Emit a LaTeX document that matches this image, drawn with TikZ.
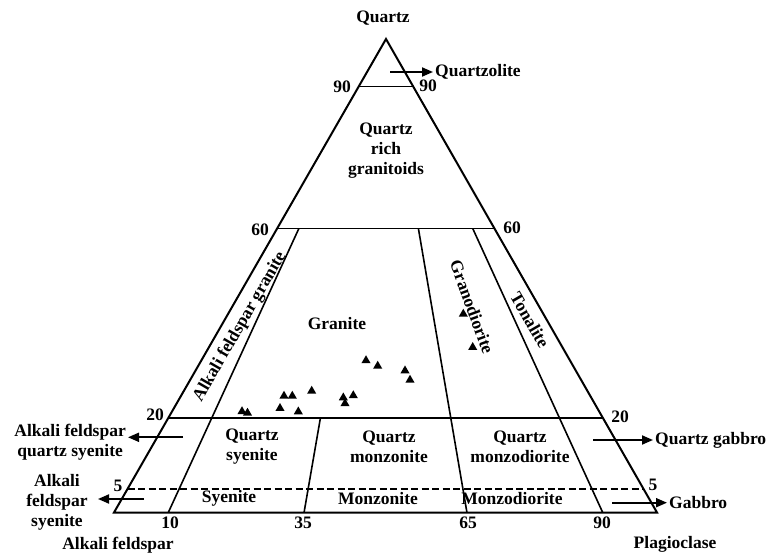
\documentclass[tikz,border=0pt]{standalone}
\usepackage{fontspec}
\setmainfont{Liberation Serif}
\usetikzlibrary{arrows.meta}
\usetikzlibrary{calc}
\usetikzlibrary{shapes.geometric}

\begin{document}
\begin{tikzpicture}[x=1pt, y=1pt,
        every node/.style={font=\bfseries\fontsize{17.5}{20}\selectfont, inner sep=2pt},
        edge/.style={line width=2pt, line join=miter},
        field/.style={line width=1.6pt},
        arr/.style={line width=1.9pt, -{Triangle[length=11pt, width=9pt]}},
        tri/.style={fill, regular polygon, regular polygon sides=3, minimum size=10.5pt, inner sep=0}]
            \useasboundingbox (0,0) rectangle (769,555);
            % corners of the QAP triangle
            \coordinate (A) at (114,42.5);
            \coordinate (P) at (657,42.5);
            \coordinate (Q) at (386,516);
            \coordinate (b10) at ($(A)!0.10!(P)$);
            \coordinate (b35) at ($(A)!0.35!(P)$);
            \coordinate (b65) at ($(A)!0.65!(P)$);
            \coordinate (b90) at ($(A)!0.90!(P)$);
            \draw[edge] (A) -- (P) -- (Q) -- cycle;
            \draw[field] ($(A)!0.9!(Q)$) -- ($(P)!0.9!(Q)$);
            \draw[field] ($(A)!0.6!(Q)$) -- ($(P)!0.6!(Q)$);
            \draw[field] ($(A)!0.2!(Q)$) -- ($(P)!0.2!(Q)$);
            \draw[field, dash pattern=on 7pt off 3.5pt] ($(A)!0.05!(Q)$) -- ($(P)!0.05!(Q)$);
            \draw[field] ($(b10)!0.6!(Q)$) -- (b10);
            \draw[field] ($(b35)!0.2!(Q)$) -- (b35);
            \draw[field] ($(b65)!0.6!(Q)$) -- (b65);
            \draw[field] ($(b90)!0.6!(Q)$) -- (b90);

            % corner and scale labels
            \node (lq) at (383,537) {Quartz};
            \node (la) at (118,10) {Alkali feldspar};
            \node (lp) at (675,11) {Plagioclase};
            \node (n90l) at (342,468) {90};
            \node (n90r) at (428,469) {90};
            \node (n60l) at (260,325) {60};
            \node (n60r) at (512,327) {60};
            \node (n20l) at (155,140) {20};
            \node (n20r) at (620,138.3) {20};
            \node (n5l) at (118,69) {5};
            \node (n5r) at (653,70) {5};
            \node (n10) at (170,32) {10};
            \node (n35) at (303,32) {35};
            \node (n65) at (468,32) {65};
            \node (n90b) at (602,32) {90};

            % field names
            \node[align=center] (qrg) at (386,404) {Quartz\\rich\\granitoids};
            \node[rotate=60] (afg) at (240,228) {Alkali feldspar granite};
            \node (gra) at (337,231) {Granite};
            \node[rotate=-70] (grd) at (472,248) {Granodiorite};
            \node[rotate=-60] (ton) at (530,235) {Tonalite};
            \node[align=center] (qsy) at (252,108) {Quartz\\syenite};
            \node[align=center] (qmz) at (389,108) {Quartz\\monzonite};
            \node[align=center] (qmd) at (520,108) {Quartz\\monzodiorite};
            \node (sye) at (229,57) {Syenite};
            \node (mzn) at (378,56) {Monzonite};
            \node (mzd) at (512,56) {Monzodiorite};

            % fields outside the triangle
            \coordinate (s1) at (390,483);
            \node[anchor=west] (qzl) at (433,483) {Quartzolite};
            \draw[arr] (s1) -- (qzl.west);
            \coordinate (s2) at (183,117.7);
            \node[anchor=east, align=center] (afq) at (128,113) {Alkali feldspar\\quartz syenite};
            \draw[arr] (s2) -- (afq.east |- s2);
            \coordinate (s3) at (144,56);
            \coordinate (e3) at (98,56);
            \node[align=center] (afs) at (57,53) {Alkali\\feldspar\\syenite};
            \draw[arr] (s3) -- (e3);
            \coordinate (s4) at (593,115);
            \node[anchor=west] (qgb) at (653,115) {Quartz gabbro};
            \draw[arr] (s4) -- (qgb.west);
            \coordinate (s5) at (612,52.3);
            \node[anchor=west] (gab) at (667,52.3) {Gabbro};
            \draw[arr] (s5) -- (gab.west);

            % samples
            \node[tri] (t1) at (242,143.5) {};
            \node[tri] (t2) at (247.5,142) {};
            \node[tri] (t3) at (280,146.7) {};
            \node[tri] (t4) at (284,159) {};
            \node[tri] (t5) at (292.3,159) {};
            \node[tri] (t6) at (298.3,143.3) {};
            \node[tri] (t7) at (311.7,164) {};
            \node[tri] (t8) at (343.3,157.3) {};
            \node[tri] (t9) at (345,151.5) {};
            \node[tri] (t10) at (353.3,159.5) {};
            \node[tri] (t11) at (366,194.5) {};
            \node[tri] (t12) at (377.7,189) {};
            \node[tri] (t13) at (405,184.3) {};
            \node[tri] (t14) at (410,175) {};
            \node[tri] (t15) at (463.3,241) {};
            \node[tri] (t16) at (472.7,207.7) {};
        \end{tikzpicture}
\end{document}
